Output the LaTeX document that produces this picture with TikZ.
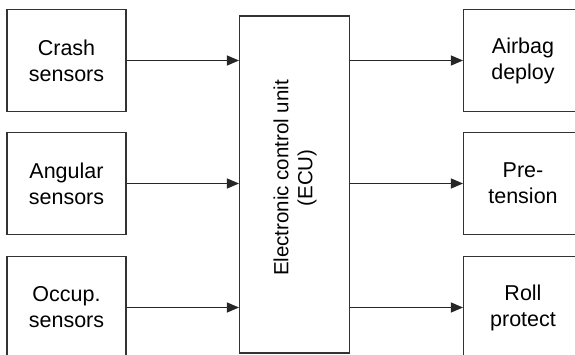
\documentclass[tikz,border=0pt]{standalone}
\usepackage{fontspec}
\setmainfont{Liberation Sans}
\usetikzlibrary{arrows.meta}
\begin{document}
\begin{tikzpicture}[x=1pt,y=-1pt,
  box/.style={draw=black!80, line width=1.1pt, minimum width=119pt, minimum height=102pt, inner sep=0pt, align=center, font=\fontsize{21.5}{26}\selectfont},
  conn/.style={draw=black!85, line width=1.1pt, -{Triangle[length=12pt,width=10pt]}},
  lbl/.style={align=center, inner sep=0pt, font=\fontsize{20.5}{24}\selectfont}]
\useasboundingbox (0,0) rectangle (575,355);
\clip (0,0) rectangle (575,355);
\node[box] (crash) at (66.5,60.5) {Crash\\sensors};
\node[box] (ang) at (66.5,183.5) {Angular\\sensors};
\node[box] (occ) at (66.5,307.5) {Occup.\\sensors};
\node[box, minimum width=110pt, minimum height=337pt] (ecu) at (294.5,184.5) {};
\node[lbl, rotate=90] (ecutext) at (295,178) {Electronic control unit\\(ECU)};
\node[box] (air) at (523,60.5) {Airbag\\deploy};
\node[box] (pre) at (523,183.5) {Pre-\\tension};
\node[box] (roll) at (523,307.5) {Roll\\protect};
\draw[conn] (crash.east) -- (crash.east -| ecu.west);
\draw[conn] (ang.east) -- (ang.east -| ecu.west);
\draw[conn] (occ.east) -- (occ.east -| ecu.west);
\draw[conn] (ecu.east |- air.west) -- (air.west);
\draw[conn] (ecu.east |- pre.west) -- (pre.west);
\draw[conn] (ecu.east |- roll.west) -- (roll.west);
\end{tikzpicture}
\end{document}
